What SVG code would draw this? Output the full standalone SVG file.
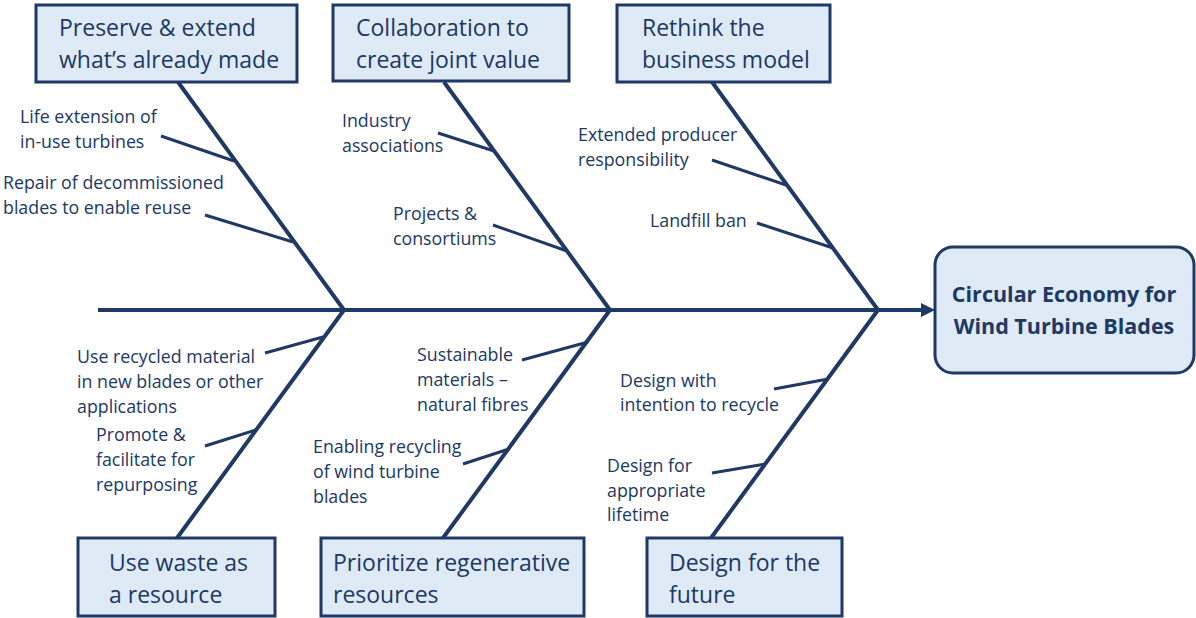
<svg xmlns="http://www.w3.org/2000/svg" width="1196" height="618" viewBox="0 0 1196 618">
<style>
.box{fill:#DEEAF6;stroke:#203864;stroke-width:3}
.bone{stroke:#203864;stroke-width:4;fill:none;stroke-linecap:butt}
.sub{stroke:#203864;stroke-width:3;fill:none}
.bt{font-family:"Open Sans","Liberation Sans",sans-serif;font-size:23px;fill:#203864}
.st{font-family:"Open Sans","Liberation Sans",sans-serif;font-size:17.8px;fill:#203864}
.ct{font-family:"Open Sans","Liberation Sans",sans-serif;font-size:21.5px;font-weight:bold;fill:#203864;text-anchor:middle}
</style>
<rect width="1196" height="618" fill="#ffffff"/>
<g id="connectors">
<line class="bone" x1="98" y1="310" x2="926" y2="310"/>
<path d="M921,303 L935,310 L921,317 z" fill="#203864"/>
<line class="bone" x1="178" y1="82" x2="344" y2="310"/>
<line class="bone" x1="444" y1="82" x2="610" y2="310"/>
<line class="bone" x1="712" y1="82" x2="878" y2="310"/>
<line class="bone" x1="344" y1="310" x2="177" y2="538"/>
<line class="bone" x1="610" y1="310" x2="443" y2="538"/>
<line class="bone" x1="878" y1="310" x2="711" y2="538"/>
<line class="sub" x1="161" y1="136" x2="234" y2="161"/>
<line class="sub" x1="205" y1="215" x2="293" y2="242"/>
<line class="sub" x1="438" y1="133" x2="494" y2="151"/>
<line class="sub" x1="493" y1="225" x2="567" y2="251"/>
<line class="sub" x1="712" y1="160" x2="786" y2="185"/>
<line class="sub" x1="757" y1="223" x2="833" y2="248"/>
<line class="sub" x1="265" y1="353" x2="323" y2="337"/>
<line class="sub" x1="205" y1="446" x2="256" y2="430"/>
<line class="sub" x1="522" y1="360" x2="588" y2="342"/>
<line class="sub" x1="463" y1="464" x2="509" y2="449"/>
<line class="sub" x1="774" y1="389" x2="828" y2="379"/>
<line class="sub" x1="712" y1="473" x2="765" y2="464"/>
</g>
<g id="cat-preserve">
<rect class="box" x="36" y="5" width="261" height="77"/>
<text class="bt" x="59" y="36">Preserve &amp; extend</text>
<text class="bt" x="59" y="68">what’s already made</text>
</g>
<g id="cat-collab">
<rect class="box" x="333" y="5" width="236" height="76"/>
<text class="bt" x="356" y="36">Collaboration to</text>
<text class="bt" x="356" y="68">create joint value</text>
</g>
<g id="cat-rethink">
<rect class="box" x="617" y="5" width="213" height="77"/>
<text class="bt" x="642" y="36">Rethink the</text>
<text class="bt" x="642" y="68">business model</text>
</g>
<g id="cat-waste">
<rect class="box" x="78" y="538" width="197" height="78"/>
<text class="bt" x="109" y="571">Use waste as</text>
<text class="bt" x="109" y="603">a resource</text>
</g>
<g id="cat-regen">
<rect class="box" x="321" y="538" width="263" height="78"/>
<text class="bt" x="333" y="571">Prioritize regenerative</text>
<text class="bt" x="333" y="603">resources</text>
</g>
<g id="cat-future">
<rect class="box" x="647" y="538" width="195" height="78"/>
<text class="bt" x="669" y="571">Design for the</text>
<text class="bt" x="669" y="603">future</text>
</g>
<g id="head">
<rect class="box" x="935" y="247" width="259" height="126" rx="18"/>
<text class="ct" x="1064" y="302">Circular Economy for</text>
<text class="ct" x="1064" y="334">Wind Turbine Blades</text>
</g>
<g id="causes">
<text class="st" x="20" y="123">Life extension of</text>
<text class="st" x="20" y="148">in-use turbines</text>
<text class="st" x="3" y="189">Repair of decommissioned</text>
<text class="st" x="3" y="214">blades to enable reuse</text>
<text class="st" x="342" y="127">Industry</text>
<text class="st" x="342" y="152">associations</text>
<text class="st" x="393" y="220">Projects &amp;</text>
<text class="st" x="393" y="245">consortiums</text>
<text class="st" x="578" y="141">Extended producer</text>
<text class="st" x="578" y="166">responsibility</text>
<text class="st" x="650" y="227">Landfill ban</text>
<text class="st" x="77" y="363">Use recycled material</text>
<text class="st" x="77" y="388">in new blades or other</text>
<text class="st" x="77" y="413">applications</text>
<text class="st" x="96" y="441">Promote &amp;</text>
<text class="st" x="96" y="466">facilitate for</text>
<text class="st" x="96" y="491">repurposing</text>
<text class="st" x="417" y="361">Sustainable</text>
<text class="st" x="417" y="386">materials –</text>
<text class="st" x="417" y="411">natural fibres</text>
<text class="st" x="313" y="453">Enabling recycling</text>
<text class="st" x="313" y="478">of wind turbine</text>
<text class="st" x="313" y="503">blades</text>
<text class="st" x="620" y="387">Design with</text>
<text class="st" x="620" y="411">intention to recycle</text>
<text class="st" x="607" y="472">Design for</text>
<text class="st" x="607" y="497">appropriate</text>
<text class="st" x="607" y="521">lifetime</text>
</g>
</svg>
